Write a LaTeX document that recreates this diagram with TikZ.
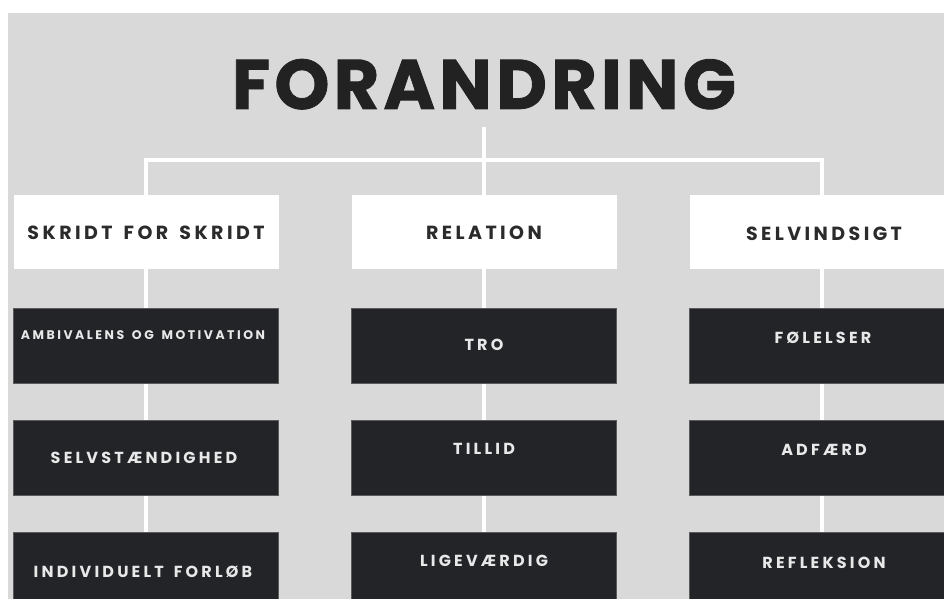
\documentclass[tikz,border=0pt]{standalone}
\usepackage{fontspec}
\setmainfont{Poppins}
\newfontfamily\spc[LetterSpace=18,WordSpace=1.5]{Poppins}
\newfontfamily\spcb[LetterSpace=20,WordSpace=1.5]{Poppins}
\newfontfamily\ttl[LetterSpace=6,FakeBold=1.2]{Poppins}
\usetikzlibrary{backgrounds}
\definecolor{bggray}{HTML}{D9D9D9}
\definecolor{boxdark}{HTML}{232428}
\definecolor{boxedge}{HTML}{5A5A5A}
\definecolor{titletext}{HTML}{222222}
\definecolor{headtext}{HTML}{2B2B2B}
\definecolor{lighttext}{HTML}{E8E8E8}
\begin{document}
\begin{tikzpicture}[x=1pt,y=-1pt,
  conn/.style={draw=white,line width=4pt},
  headbox/.style={fill=white,minimum width=265pt,minimum height=74pt,inner sep=0pt},
  darkbox/.style={fill=boxdark,draw=boxedge,line width=0.7pt,minimum width=265pt,minimum height=75pt,inner sep=0pt},
  titlestyle/.style={font=\ttl\bfseries\fontsize{70}{72}\selectfont,text=titletext,text depth=0pt,inner sep=0pt},
  headtxt/.style={font=\spc\bfseries\fontsize{19}{21}\selectfont,text=headtext,text depth=0pt,inner sep=0pt},
  lbl/.style={font=\spcb\bfseries\fontsize{16}{18}\selectfont,text=lighttext,text depth=0pt,inner sep=0pt},
  lblsmall/.style={font=\spcb\bfseries\fontsize{12.5}{14}\selectfont,text=lighttext,text depth=0pt,inner sep=0pt}]
\useasboundingbox (0,0) rectangle (944,599);
% title
\node[titlestyle] (t) at (484,84) {FORANDRING};
\coordinate (top) at (484,127);
\coordinate (jm) at (484,160);
\coordinate (jl) at (146,160);
\coordinate (jr) at (822,160);
% header boxes
\node[headbox] (h1) at (146,232) {};
\node[headbox] (h2) at (484,232) {};
\node[headbox] (h3) at (822,232) {};
\node[headtxt] (h1t) at (146,233) {SKRIDT FOR SKRIDT};
\node[headtxt] (h2t) at (484,233) {RELATION};
\node[headtxt] (h3t) at (824,234) {SELVINDSIGT};
% dark boxes
\node[darkbox] (a1) at (146,345.5) {};
\node[darkbox] (a2) at (484,345.5) {};
\node[darkbox] (a3) at (822,345.5) {};
\node[darkbox] (b1) at (146,458) {};
\node[darkbox] (b2) at (484,458) {};
\node[darkbox] (b3) at (822,458) {};
\node[darkbox] (c1) at (146,570) {};
\node[darkbox] (c2) at (484,570) {};
\node[darkbox] (c3) at (822,570) {};
\node[lblsmall] (a1t) at (143,335) {AMBIVALENS OG MOTIVATION};
\node[lbl] (a2t) at (484,345) {TRO};
\node[lbl] (a3t) at (823,338) {FØLELSER};
\node[lbl] (b1t) at (144,458) {SELVSTÆNDIGHED};
\node[lbl] (b2t) at (484,449) {TILLID};
\node[lbl] (b3t) at (824,450) {ADFÆRD};
\node[lbl] (c1t) at (143,572) {INDIVIDUELT FORLØB};
\node[lbl] (c2t) at (484,561) {LIGEVÆRDIG};
\node[lbl] (c3t) at (824,563) {REFLEKSION};
% connectors
\begin{scope}[on background layer]
\fill[white] (0,0) rectangle (944,599);
\fill[bggray] (8,13) rectangle (944,599);
\draw[conn] (top) -- (jm);
\draw[conn,line cap=rect] (jl) -- (jr);
\draw[conn] (jl) -- (h1) -- (a1) -- (b1) -- (c1);
\draw[conn] (jm) -- (h2) -- (a2) -- (b2) -- (c2);
\draw[conn] (jr) -- (h3) -- (a3) -- (b3) -- (c3);
\end{scope}
\end{tikzpicture}
\end{document}
